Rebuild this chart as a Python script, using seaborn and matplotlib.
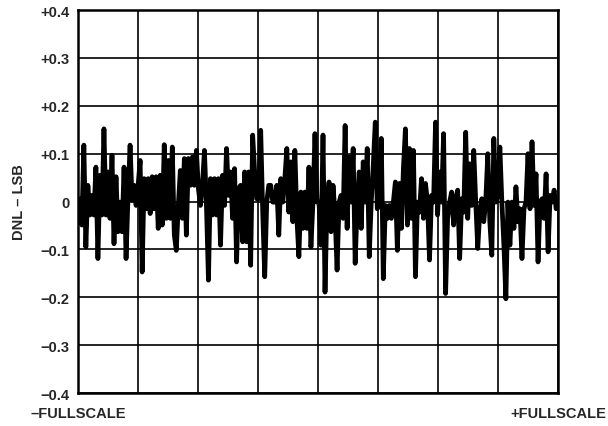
import numpy as np
import pandas as pd
import matplotlib
matplotlib.use("Agg")
import matplotlib.pyplot as plt
import seaborn as sns

# DNL readings (LSB) across the code range
dnl_part1 = [0.006, -0.049, 0.118, -0.095, 0.034, -0.028, 0.013, -0.028, 0.072, -0.119,
             0.055, -0.028, 0.152, -0.028, 0.062, -0.035, 0.097, -0.088, 0.052, -0.063,
             -0.001, -0.063, 0.072, -0.119, 0.013, 0.118, 0.003, 0.034, -0.008, 0.034,
             0.086, -0.147, 0.048, -0.015, 0.048, -0.025, 0.052, -0.015, 0.052, -0.056,
             0.055, -0.049, 0.119, -0.035, 0.086, -0.035, 0.114, -0.070, -0.102, -0.008,
             0.065, -0.035, 0.090, -0.070, 0.090, 0.034, 0.093, 0.034]
dnl_part2 = [0.107, 0.027, -0.008, 0.034, 0.107, -0.008, -0.164, 0.048, -0.028, 0.048,
             -0.028, 0.048, -0.091, 0.055, -0.008, 0.111, 0.013, 0.062, -0.035, 0.069,
             -0.126, 0.027, 0.034, -0.084, 0.062, -0.084, 0.062, -0.133, 0.139, 0.062,
             0.006, 0.006, 0.149, -0.022, -0.157, -0.001, 0.034, 0.034, -0.001, -0.001,
             0.034, -0.070, 0.048, -0.001, 0.048, 0.111, -0.022, 0.083, -0.042, 0.107,
             -0.035, -0.115, 0.020, -0.056, 0.020, -0.056, 0.072, -0.095, -0.001, 0.142,
             -0.001]
dnl_part3 = [-0.001, -0.091, 0.139, -0.189, -0.001, 0.041, -0.063, 0.034, -0.028, -0.143,
             -0.001, 0.013, -0.035, 0.159, -0.056, 0.093, -0.001, 0.111, -0.129, -0.008,
             0.062, -0.056, 0.083, -0.001, 0.111, -0.115, -0.001, 0.076, 0.166, -0.015,
             -0.001, 0.132, -0.161, -0.008, -0.035, -0.008, -0.035, -0.001, 0.041, -0.102,
             0.038, -0.056, 0.069, 0.152, -0.049, 0.111, -0.035, 0.107, -0.157, -0.001,
             -0.022, 0.048, -0.035, 0.038, -0.001, -0.122, 0.013, -0.001]
dnl_part4 = [0.166, -0.028, 0.062, -0.001, 0.142, -0.192, -0.035, -0.001, 0.020, -0.049,
             0.006, 0.024, -0.119, 0.006, -0.022, 0.145, -0.035, 0.079, -0.008, 0.107,
             -0.001, -0.098, -0.022, 0.006, -0.042, 0.003, 0.100, -0.042, -0.112, 0.132,
             -0.001, 0.013, 0.114, -0.001, -0.091, -0.203, -0.001, -0.091, -0.001, -0.056,
             0.031, -0.042, -0.015, -0.119, -0.015, -0.001, 0.100, -0.015, 0.125, -0.008,
             0.058, -0.126, -0.001, 0.006, -0.035, 0.058, -0.105, 0.013, -0.001, 0.024,
             -0.015]

y_ticks = [-0.4, -0.3, -0.2, -0.1, 0.0, 0.1, 0.2, 0.3, 0.4]
y_labels = ["\u22120.4", "\u22120.3", "\u22120.2", "\u22120.1", "0", "+0.1", "+0.2", "+0.3", "+0.4"]
x_end_labels = ["\u2013FULLSCALE", "+FULLSCALE"]

dnl = dnl_part1 + dnl_part2 + dnl_part3 + dnl_part4
df = pd.DataFrame({"code": np.arange(len(dnl)), "dnl": dnl})

sns.set_style("white")
plt.rcParams['font.family'] = ['Liberation Sans', 'DejaVu Sans']

fig = plt.figure(figsize=(6.08, 4.27), dpi=100)
ax = fig.add_axes([0.128, 0.077, 0.79, 0.897])

sns.lineplot(data=df, x="code", y="dnl", color="black", linewidth=3.4, ax=ax)

n = len(dnl)
ax.set_xlim(-1, n)
ax.set_ylim(-0.4, 0.4)
x_grid = np.linspace(-1, n, 9)
ax.set_xticks(x_grid)
ax.set_xticklabels([x_end_labels[0]] + [""] * 7 + [x_end_labels[1]],
                   fontsize=10.5, fontweight="bold")
ax.set_yticks(y_ticks)
ax.set_yticklabels(y_labels, fontsize=10.5, fontweight="bold")
ax.tick_params(axis="y", length=0, pad=6)
ax.tick_params(axis="x", length=0, pad=9)
ax.grid(True, color="black", linewidth=1.2)
for s in ax.spines.values():
    s.set_color("black")
    s.set_linewidth(1.8)
ax.set_xlabel("")
ax.set_ylabel("DNL \u2013 LSB", fontsize=10.5, fontweight="bold", labelpad=10)

fig.savefig("out.png", dpi=100)
